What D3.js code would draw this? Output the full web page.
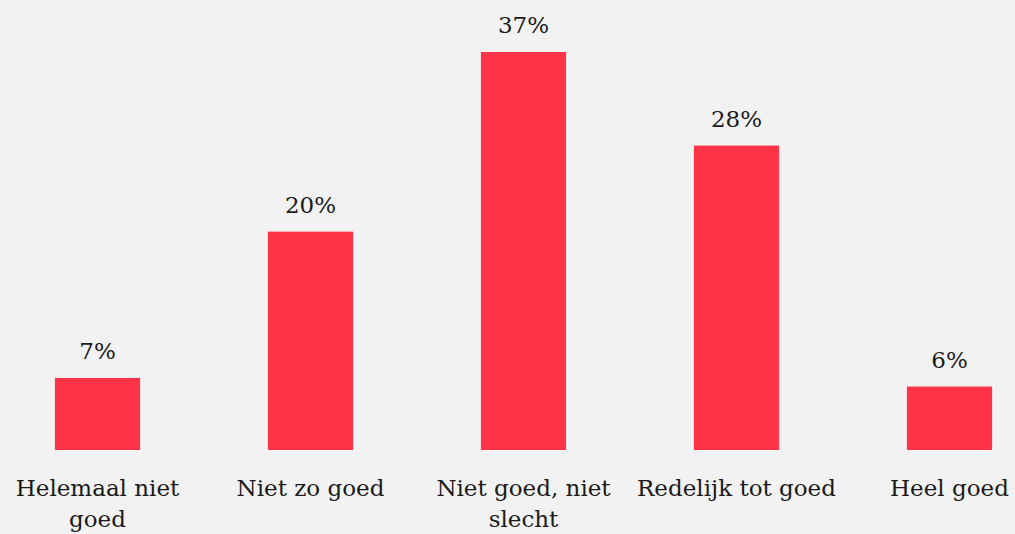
<html>
<head>
<meta charset="utf-8">
<style>
  body { margin: 0; background: #f2f2f2; }
  svg { display: block; background: #f2f2f2; }
  text { font-family: "DejaVu Serif", serif; font-size: 23px; fill: #1a1a1a; }
</style>
<script src="https://cdn.jsdelivr.net/npm/d3@7"></script>
</head>
<body>
<div id="chart"></div>
<script>
var categories = ['Helemaal niet goed', 'Niet zo goed', 'Niet goed, niet slecht', 'Redelijk tot goed', 'Heel goed'];
var values = [6.7, 20.3, 37, 28.3, 5.9];
var valueLabels = ['7%', '20%', '37%', '28%', '6%'];

var width = 1015, height = 534;
var baseY = 450;

var svg = d3.select('#chart')
    .append('svg')
    .attr('width', width)
    .attr('height', height);

var x = d3.scaleBand()
    .domain(categories)
    .range([-9, 1056])
    .paddingInner(0.6)
    .paddingOuter(0.3);

var y = d3.scaleLinear()
    .domain([0, 37])
    .range([baseY, 52]);

svg.selectAll('rect')
    .data(values)
  .enter().append('rect')
    .attr('x', function(d, i) { return x(categories[i]); })
    .attr('y', function(d) { return y(d); })
    .attr('width', x.bandwidth())
    .attr('height', function(d) { return baseY - y(d); })
    .attr('fill', '#ff3347');

svg.selectAll('text.val')
    .data(values)
  .enter().append('text')
    .attr('class', 'val')
    .attr('x', function(d, i) { return x(categories[i]) + x.bandwidth() / 2; })
    .attr('y', function(d) { return y(d) - 19; })
    .attr('text-anchor', 'middle')
    .text(function(d, i) { return valueLabels[i]; });

// category labels, wrapped to ~210px
var maxW = 210;
categories.forEach(function(c) {
    var t = svg.append('text')
        .attr('text-anchor', 'middle')
        .attr('x', x(c) + x.bandwidth() / 2)
        .attr('y', 496);
    var words = c.split(' '), line = [];
    var span = t.append('tspan').attr('x', x(c) + x.bandwidth() / 2).attr('dy', 0);
    words.forEach(function(w) {
        line.push(w);
        span.text(line.join(' '));
        if (span.node().getComputedTextLength() > maxW && line.length > 1) {
            line.pop();
            span.text(line.join(' '));
            line = [w];
            span = t.append('tspan').attr('x', x(c) + x.bandwidth() / 2).attr('dy', 31).text(w);
        }
    });
});
</script>
</body>
</html>
